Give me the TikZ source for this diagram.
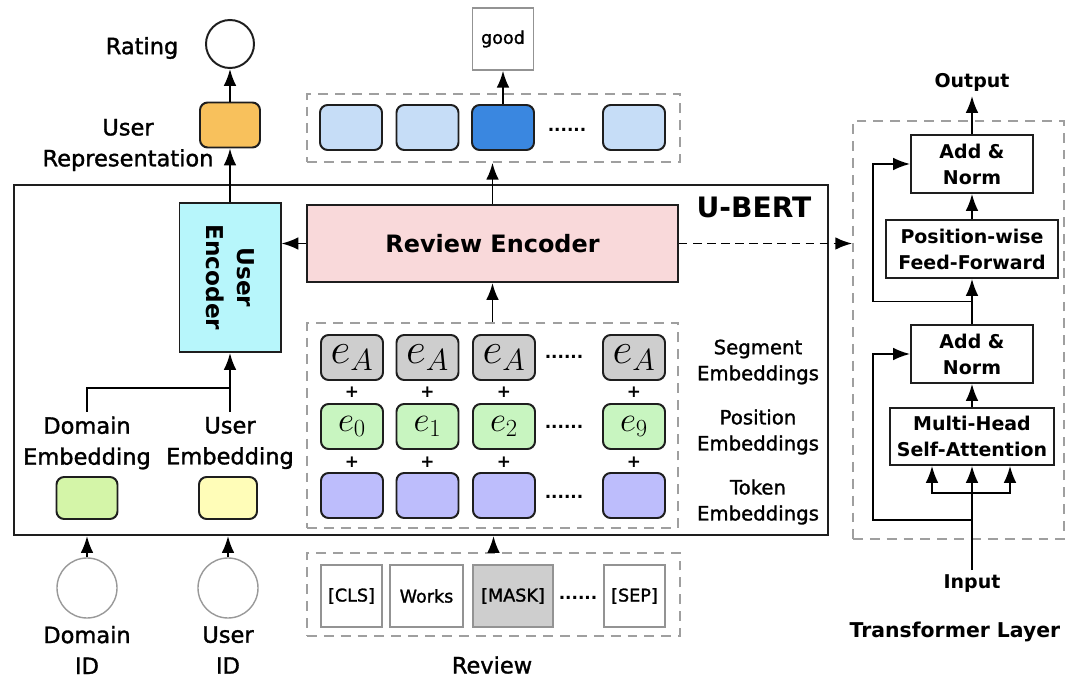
\RequirePackage{fix-cm}
\documentclass[tikz,border=0pt]{standalone}
\usepackage[no-math]{fontspec}
\setmainfont{DejaVu Sans}
\newfontfamily\lblfont{DejaVu Sans}[FakeBold=1.4]
\usepackage{tikz}
\usetikzlibrary{arrows.meta,positioning,calc}
\definecolor{ublue}{RGB}{198,221,247}
\definecolor{udark}{RGB}{58,135,224}
\definecolor{useg}{RGB}{206,206,206}
\definecolor{upos}{RGB}{200,245,192}
\definecolor{utok}{RGB}{189,189,252}
\definecolor{udom}{RGB}{212,245,168}
\definecolor{uusr}{RGB}{255,253,184}
\definecolor{uenc}{RGB}{183,246,251}
\definecolor{urev}{RGB}{249,217,218}
\definecolor{urep}{RGB}{248,193,92}
\definecolor{edge}{RGB}{30,30,30}

\tikzset{
  lbl/.style={font=\lblfont\fontsize{16}{22}\selectfont, align=center},
  slbl/.style={font=\lblfont\fontsize{14}{18.5}\selectfont, align=center},
  blk/.style={draw=edge, line width=1.4pt, rounded corners=5.5pt, minimum width=1.55cm, minimum height=1.125cm, inner sep=0pt},
  tfm/.style={draw=edge, line width=1.3pt, font=\bfseries\fontsize{13.5}{18.5}\selectfont, align=center, inner sep=0pt},
  wrd/.style={draw=gray!85, line width=1pt, font=\lblfont\fontsize{12.5}{15}\selectfont, minimum height=1.55cm, inner sep=0pt},
  grp/.style={draw=gray!75, line width=1.1pt, dash pattern=on 7pt off 5pt, inner sep=0pt},
  arr/.style={-{Latex[length=12pt,width=9pt]}, line width=1.3pt},
  dts/.style={font=\bfseries\fontsize{12}{14}\selectfont},
}

\begin{document}
\begin{tikzpicture}[x=0.025cm, y=-0.025cm]
\useasboundingbox (0,0) rectangle (1066,681);
% ---- left: user side
\node[circle, draw=edge, line width=1.4pt, minimum size=1.2cm] (rating) at (230,44) {};
\node[lbl] (ratinglbl) at (142,48) {Rating};
\node[blk, fill=urep, minimum width=1.5cm] (urep) at (230,125) {};
\node[lbl] (ureplbl) at (128,145) {User\\Representation};
\node[draw=edge, line width=1.4pt, minimum width=20.35cm, minimum height=8.75cm, inner sep=0pt] (ubert) at (421,360) {};
\node[font=\bfseries\fontsize{20}{22}\selectfont] (ubertlbl) at (754,207) {U-BERT};
\node[draw=edge, line width=1.4pt, fill=uenc, minimum width=2.525cm, minimum height=3.725cm] (uenc) at (230,277.5) {};
\node[rotate=-90, font=\bfseries\fontsize{16.5}{22}\selectfont, align=center] (uenclbl) at (uenc.center) {User\\Encoder};
\node[lbl] (dlbl) at (87,443) {Domain\\Embedding};
\node[lbl] (ulbl) at (230,443) {User\\Embedding};
\node[blk, fill=udom, minimum width=1.525cm, minimum height=1.05cm] (demb) at (87,498) {};
\node[blk, fill=uusr, minimum width=1.45cm, minimum height=1.05cm] (uemb) at (228,498) {};
\node[circle, draw=gray!80, line width=1pt, minimum size=1.5cm] (did) at (87,588) {};
\node[circle, draw=gray!80, line width=1pt, minimum size=1.5cm] (uid) at (228,588) {};
\node[lbl] (didlbl) at (87,650) {Domain\\ID};
\node[lbl] (uidlbl) at (228,650) {User\\ID};
\coordinate (merge) at (230,388);
\draw[line width=1.3pt] (dlbl.north) |- (merge);
\draw[arr] (ulbl.north) -- (uenc.south);
\draw[arr] (did.north) -- (did.north |- ubert.south);
\draw[arr] (uid.north) -- (uid.north |- ubert.south);
\draw[arr] (uenc.north) -- (urep.south);
\draw[arr] (urep.north) -- (rating.south);
% ---- middle: review side
\node[draw=edge, line width=1.4pt, fill=urev, minimum width=9.275cm, minimum height=1.925cm,
  font=\bfseries\fontsize{17}{20}\selectfont] (renc) at (492.5,243.5) {Review Encoder};
\node[grp, minimum width=9.325cm, minimum height=1.7cm] (outgrp) at (493.5,128) {};
\foreach \x/\n in {351/o1, 427.5/o2, 634/o4}
  \node[blk, fill=ublue] (\n) at (\x,127.5) {};
\node[blk, fill=udark] (o3) at (503,127.5) {};
\node[dts] (odots) at (567,130) {......};
\node[draw=gray!85, line width=1pt, minimum width=1.525cm, minimum height=1.55cm,
  font=\lblfont\fontsize{12.5}{15}\selectfont] (good) at (503,39) {good};
\node[grp, minimum width=9.275cm, minimum height=5.125cm] (embgrp) at (492.5,425.5) {};
\foreach \x/\k [count=\i] in {352/0, 427.5/1, 504/2, 634/9} {
  \node[blk, fill=useg, font=\fontsize{31}{33}\selectfont] (s\i) at (\x,357.5) {$e_A$};
  \node[blk, fill=upos, font=\fontsize{25}{27}\selectfont] (p\i) at (\x,426.5) {$e_{\k}$};
  \node[blk, fill=utok] (t\i) at (\x,495.5) {};
  \node[dts] (sp\i) at (\x,392) {+};
  \node[dts] (pp\i) at (\x,462) {+};
}
\foreach \y/\n in {357/sdots, 427/pdots, 497/tdots}
  \node[dts] (\n) at (564,\y) {......};
\node[slbl] (seglbl) at (758,362) {Segment\\Embeddings};
\node[slbl] (poslbl) at (758,432) {Position\\Embeddings};
\node[slbl] (toklbl) at (758,502) {Token\\Embeddings};
\node[grp, minimum width=9.325cm, minimum height=2.075cm] (revgrp) at (493.5,594.5) {};
\node[wrd, minimum width=1.525cm] (cls) at (351.5,596) {[CLS]};
\node[wrd, minimum width=1.825cm] (works) at (426.5,596) {Works};
\node[wrd, minimum width=2cm, fill=useg] (mask) at (513,596) {[MASK]};
\node[wrd, minimum width=1.525cm] (sep) at (634.5,596) {[SEP]};
\node[dts] (wdots) at (578,598) {......};
\node[lbl] (revlbl) at (492,665) {Review};
\draw[arr] (revgrp.north) -- (revgrp.north |- ubert.south);
\draw[arr] (embgrp.north) -- (embgrp.north |- renc.south);
\draw[arr] (renc.north) -- (renc.north |- outgrp.south);
\draw[arr] (o3.north) -- (good.south);
\draw[arr] (renc.west) -- (renc.west -| uenc.east);
% ---- right: transformer layer
\node[grp, minimum width=5.275cm, minimum height=10.45cm] (tgrp) at (958.5,330) {};
\node[tfm, minimum width=3.05cm, minimum height=1.45cm] (an2) at (972,164) {Add \&\\Norm};
\node[tfm, minimum width=4.3cm, minimum height=1.45cm] (ffn) at (972,249) {Position-wise\\Feed-Forward};
\node[tfm, minimum width=3.05cm, minimum height=1.45cm] (an1) at (972,354) {Add \&\\Norm};
\node[tfm, minimum width=4.1cm, minimum height=1.425cm] (mha) at (972,436.5) {Multi-Head\\Self-Attention};
\node[font=\bfseries\fontsize{13.5}{16}\selectfont, anchor=south] (output) at (972,96) {Output};
\node[font=\bfseries\fontsize{13.5}{16}\selectfont, anchor=north] (input) at (972,570) {Input};
\node[font=\bfseries\fontsize{14.5}{17}\selectfont] (tlbl) at (955,632) {Transformer Layer};
\draw[arr, dash pattern=on 6pt off 4pt, line width=1.4pt] (renc.east) -- (renc.east -| tgrp.west);
\draw[arr] (an2.north) -- (output.south -| an2.north);
\draw[arr] (ffn.north) -- (an2.south);
\draw[arr] (an1.north) -- (ffn.south);
\draw[arr] (mha.north) -- (an1.south);
\draw[arr] ($(ffn.south)!0.5!(an1.north)$) -- ++(-99,0) |- (an2.west);
\coordinate (split) at (972,493);
\coordinate (skip) at (972,520);
\draw[line width=1.3pt] (input.north) -- (split);
\draw[arr] (split) -- (mha.south);
\draw[arr] (split) -| ($(mha.south)+(-40,0)$);
\draw[arr] (split) -| ($(mha.south)+(38,0)$);
\draw[arr] (skip) -- ++(-99,0) |- (an1.west);
\end{tikzpicture}
\end{document}
